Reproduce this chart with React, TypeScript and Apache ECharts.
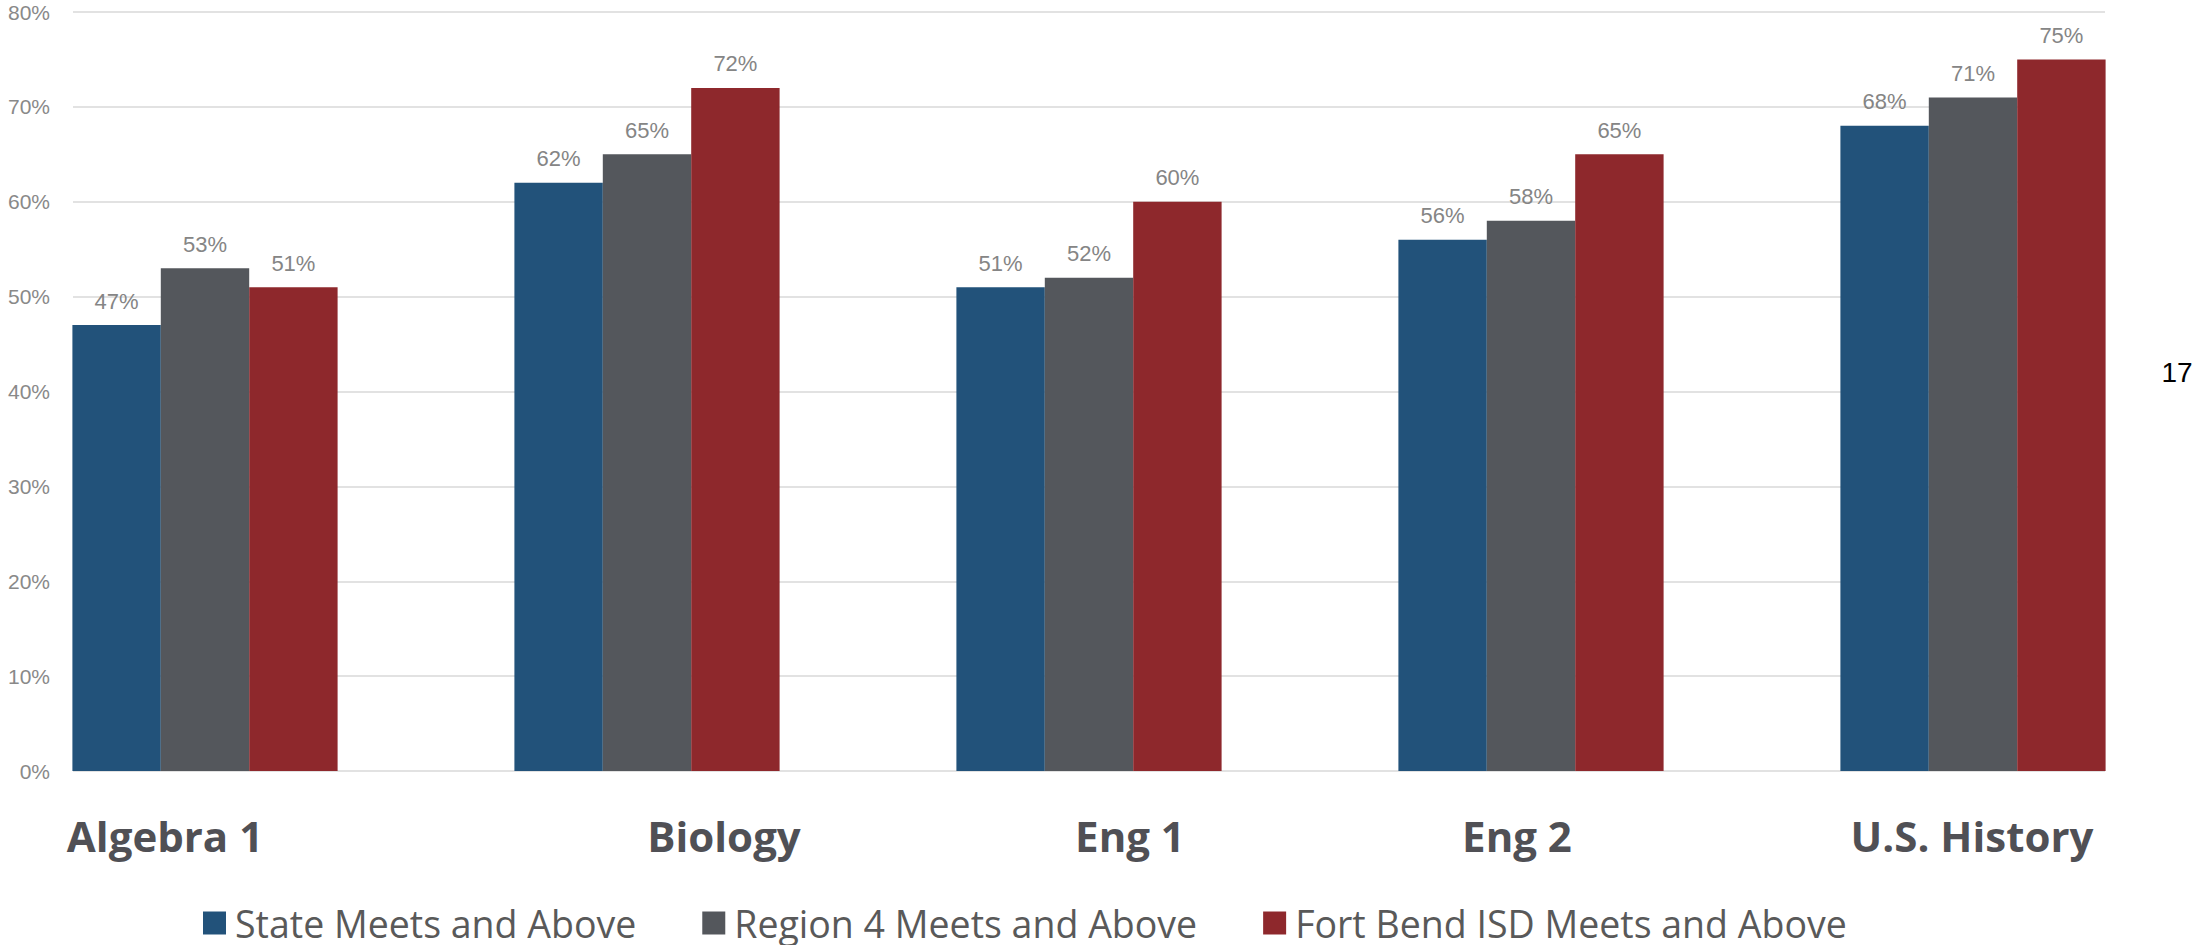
import React, { useEffect, useRef } from "react";
import * as echarts from "echarts";

const categories = ["Algebra 1", "Biology", "Eng 1", "Eng 2", "U.S. History"];
const stateValues = [47, 62, 51, 56, 68];
const regionValues = [53, 65, 52, 58, 71];
const fortBendValues = [51, 72, 60, 65, 75];
const seriesNames = ["State Meets and Above", "Region 4 Meets and Above", "Fort Bend ISD Meets and Above"];
const yTicks = [0, 10, 20, 30, 40, 50, 60, 70, 80];

// layout only (page coordinates)
const catLabelX = [165, 724, 1130, 1517, 1972];
const colors = ["#22527a", "#54575c", "#8e282c"];
const SHIFT = 16; // chart div starts 16px left of the page

export default function App() {
  const ref = useRef<HTMLDivElement>(null);
  useEffect(() => {
    if (!ref.current) return;
    const chart = echarts.init(ref.current, undefined, { renderer: "svg" });
    const labelStyle = {
      show: true,
      position: "top" as const,
      distance: 13,
      formatter: "{c}%",
      color: "#858585",
      fontSize: 22,
      fontFamily: "Liberation Sans, Arial, sans-serif",
    };
    const data = [stateValues, regionValues, fortBendValues];
    chart.setOption({
      animation: false,
      backgroundColor: "#ffffff",
      grid: [
        { left: 73 + SHIFT, top: 12, width: 2032, height: 759, containLabel: false },
        { left: 0, top: 12, width: 2210, height: 759, containLabel: false },
      ],
      xAxis: [
        { type: "value", gridIndex: 0, show: false, min: 0, max: 1 },
        {
          type: "category",
          gridIndex: 1,
          data: categories,
          axisLine: { show: false },
          axisTick: { show: false },
          axisLabel: { show: false },
          splitLine: { show: false },
        },
      ],
      yAxis: [
        {
          type: "value",
          gridIndex: 0,
          min: 0,
          max: yTicks[yTicks.length - 1],
          interval: 10,
          axisLine: { show: false },
          axisTick: { show: false },
          axisLabel: {
            formatter: "{value}%",
            color: "#898989",
            fontSize: 21,
            fontFamily: "Liberation Sans, Arial, sans-serif",
            margin: 23,
          },
          splitLine: { lineStyle: { color: "#e2e2e2", width: 2 } },
        },
        { type: "value", gridIndex: 1, min: 0, max: 80, show: false },
      ],
      legend: {
        left: 203 + SHIFT,
        top: 904,
        padding: 0,
        icon: "rect",
        itemWidth: 23,
        itemHeight: 23,
        itemGap: 66,
        textStyle: {
          fontSize: 37.5,
          lineHeight: 38,
          color: "#595959",
          fontFamily: "Open Sans, Noto Sans, sans-serif",
          padding: [0, 0, 0, 4],
        },
        data: seriesNames,
      },
      series: seriesNames.map((name, i) => ({
        name,
        type: "bar",
        xAxisIndex: 1,
        yAxisIndex: 1,
        barGap: "0%",
        barCategoryGap: "40%",
        itemStyle: { color: colors[i] },
        label: labelStyle,
        data: data[i],
      })),
      graphic: [
        ...categories.map((c, i) => ({
          type: "text",
          x: catLabelX[i] + SHIFT,
          y: 835,
          style: {
            text: c,
            font: "bold 42px 'Open Sans', 'Noto Sans', sans-serif",
            fill: "#505055",
            align: "center",
            verticalAlign: "middle",
          },
        })),
        {
          type: "text",
          x: 2177 + SHIFT,
          y: 372,
          style: {
            text: "17",
            font: "28px 'Liberation Sans', Arial, sans-serif",
            fill: "#000000",
            align: "center",
            verticalAlign: "middle",
          },
        },
      ],
    });
    return () => chart.dispose();
  }, []);
  return (
    <div
      ref={ref}
      style={{ position: "absolute", left: -SHIFT, top: 0, width: 2195 + SHIFT, height: 945 }}
    />
  );
}
